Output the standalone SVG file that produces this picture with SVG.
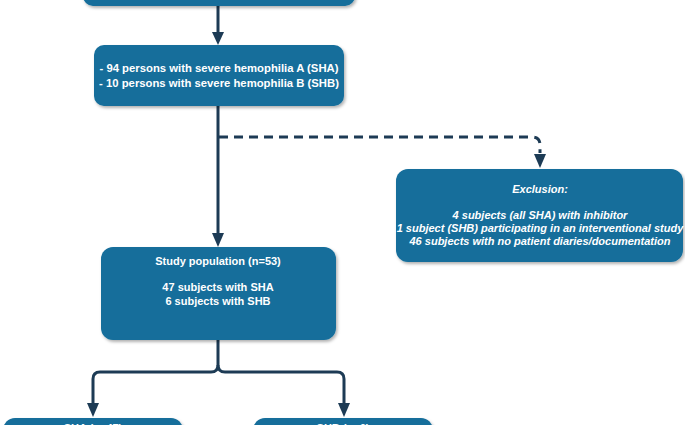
<svg xmlns="http://www.w3.org/2000/svg" width="685" height="425" viewBox="0 0 685 425">
<style>
.box{fill:#146e9b;}
.t{font-family:"Liberation Sans",Arial,sans-serif;font-weight:bold;font-size:11px;fill:#ffffff;text-anchor:middle;}
.it{font-style:italic;}
.c{fill:none;stroke:#1d3b55;stroke-width:3;}
.d{stroke-dasharray:9 6;}
.ah{fill:#1d3b55;}
</style>
<defs>
<filter id="sh" x="-10%" y="-10%" width="120%" height="130%">
<feDropShadow dx="1.5" dy="2" stdDeviation="1.5" flood-color="#000" flood-opacity="0.3"/>
</filter>
</defs>
<rect width="685" height="425" fill="#ffffff"/>
<g id="connectors">
<path class="c" d="M218 6 V33"/>
<polygon class="ah" points="212,32 224,32 218,45"/>
<path class="c" d="M218 106 V234"/>
<polygon class="ah" points="212,233 224,233 218,247"/>
<path class="c d" d="M219 137 H532 Q540 137 540 145 V153"/>
<polygon class="ah" points="534,154 546,154 540,168"/>
<path class="c" d="M218 340 V365 Q218 372 211 372 H100 Q93 372 93 379 V404"/>
<path class="c" d="M218 365 Q218 372 225 372 H337 Q344 372 344 379 V404"/>
<polygon class="ah" points="87,403 99,403 93,417"/>
<polygon class="ah" points="338,403 350,403 344,417"/>
</g>
<g id="top">
<rect class="box" x="83" y="-40" width="272" height="46" rx="10" filter="url(#sh)"/>
</g>
<g id="cohort">
<rect class="box" x="94" y="45" width="250" height="61" rx="10" filter="url(#sh)"/>
<text class="t" x="219" y="72" style="font-size:11.3px">- 94 persons with severe hemophilia A (SHA)</text>
<text class="t" x="219" y="87" style="font-size:11.3px">- 10 persons with severe hemophilia B (SHB)</text>
</g>
<g id="exclusion">
<rect class="box" x="396" y="169" width="287" height="93" rx="12" filter="url(#sh)"/>
<text class="t it" x="540" y="193">Exclusion:</text>
<text class="t it" x="540" y="219">4 subjects (all SHA) with inhibitor</text>
<text class="t it" x="540" y="232">1 subject (SHB) participating in an interventional study</text>
<text class="t it" x="540" y="245">46 subjects with no patient diaries/documentation</text>
</g>
<g id="study">
<rect class="box" x="101" y="247" width="235" height="93" rx="12" filter="url(#sh)"/>
<text class="t" x="218" y="265">Study population (n=53)</text>
<text class="t" x="218" y="291">47 subjects with SHA</text>
<text class="t" x="218" y="305">6 subjects with SHB</text>
</g>
<g id="sha">
<rect class="box" x="3" y="418" width="180" height="40" rx="12" filter="url(#sh)"/>
<text class="t" x="93" y="432">SHA (n=47)</text>
</g>
<g id="shb">
<rect class="box" x="253" y="418" width="180" height="40" rx="12" filter="url(#sh)"/>
<text class="t" x="343" y="432">SHB (n=6)</text>
</g>
</svg>
